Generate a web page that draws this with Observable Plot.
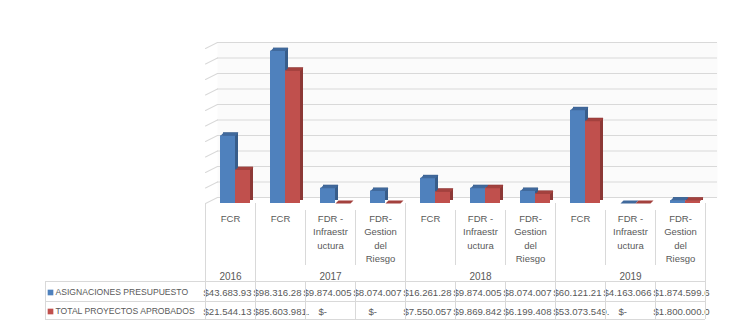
<!DOCTYPE html>
<html><head><meta charset="utf-8">
<script src="https://cdn.jsdelivr.net/npm/d3@7"></script>
<script src="https://cdn.jsdelivr.net/npm/@observablehq/plot@0.6"></script>
<style>
body{margin:0;background:#fff}
#chart svg{display:block}
</style>
</head><body><div id="chart"></div>
<script>
// ---- data ----
const years = ["2016", "2017", "2018", "2019"];
const categoryLabels = [
  "FCR",
  "FCR", "FDR -\nInfraestr\nuctura", "FDR-\nGestion\ndel\nRiesgo",
  "FCR", "FDR -\nInfraestr\nuctura", "FDR-\nGestion\ndel\nRiesgo",
  "FCR", "FDR -\nInfraestr\nuctura", "FDR-\nGestion\ndel\nRiesgo"
];
const categoryYears = ["2016", "2017", "2017", "2017", "2018", "2018", "2018", "2019", "2019", "2019"];
const seriesNames = ["ASIGNACIONES PRESUPUESTO", "TOTAL PROYECTOS APROBADOS"];
const asignaciones = [43683930000, 98316280000, 9874005000, 8074007000, 16261280000, 9874005000, 8074007000, 60121210000, 4163066, 1874599600];
const totalAprobados = [21544130000, 85603981000, 0, 0, 7550057000, 9869842000, 6199408000, 53073549000, 0, 1800000000];
const gridTicks = [0, 1e10, 2e10, 3e10, 4e10, 5e10, 6e10, 7e10, 8e10, 9e10, 1e11];

// ---- layout / style ----
const W = 732, H = 321, mL = 205, mR = 27, mT = 48, mB = 118;
const n = categoryLabels.length;
const bw = (W - mL - mR) / n;           // band width
const barW = 15, shift = 5, depth = 3;  // 3-D look
const wallDX = 12, wallDY = -6;
const tableLeft = 45;
const txt = "#595959", gridC = "#d9d9d9";
const blue = "#4f81bd", blueSide = "#385d8a", blueTop = "#40699c";
const red = "#c0504d", redSide = "#8c3836", redTop = "#a3413e";
const rowDy = [89, 108];                 // table rows (offset below baseline)
const lineDy = [78, 98, 116];            // table horizontal lines

const rows = categoryLabels.map((label, i) => ({key: i, label, year: categoryYears[i], a: asignaciones[i], t: totalAprobados[i]}));
const yearRows = years.map(y => {
  const ks = rows.filter(r => r.year === y).map(r => r.key);
  return {year: y, key: ks[Math.floor(ks.length / 2)]};
});
const groupStart = rows.filter((r, i) => i === 0 || rows[i - 1].year !== r.year);
const innerStart = rows.filter((r, i) => i > 0 && rows[i - 1].year === r.year);

const loc = d3.formatLocale({decimal: ",", thousands: ".", grouping: [3], currency: ["$", ""]});
const money = loc.format("$,.0f");
// the data table clips a value where the next cell's text begins
const cellText = (series, i) => {
  const v = series[i];
  if (v === 0) return "$-";
  const next = series[i + 1];
  const room = (next === undefined || next === 0) ? 12 : 10;
  return money(v).slice(0, room);
};

const blueL = (bw / 2 - barW) + shift, blueR = bw - blueL - barW;
const redL = blueL + barW, redR = bw - redL - barW;

const topShape = {draw(ctx) {
  ctx.moveTo(-barW / 2, 0); ctx.lineTo(barW / 2, 0);
  ctx.lineTo(barW / 2 + depth, -depth); ctx.lineTo(-barW / 2 + depth, -depth); ctx.closePath();
}};
const lineShape = {draw(ctx, l) { ctx.moveTo(0, 0); ctx.lineTo(0, -l); }};
const wallAngle = Math.atan2(wallDX, -wallDY) * 180 / Math.PI;
const wallLen = Math.hypot(wallDX, wallDY);

const font = "Liberation Sans, Arial, sans-serif";

const marks = [
  // back wall
  Plot.frame({fill: "#fbfbfb", stroke: "none", dx: wallDX, dy: wallDY}),
  Plot.ruleY(gridTicks, {stroke: gridC, dx: wallDX, dy: wallDY}),
  Plot.vector(gridTicks, {y: d => d, frameAnchor: "left", rotate: wallAngle, length: wallLen, anchor: "start", shape: lineShape, stroke: gridC, strokeWidth: 1}),
  // blue series
  Plot.barY(rows, {x: "key", y: "a", insetLeft: blueL, insetRight: blueR, fill: blueSide, dx: depth, dy: -depth}),
  Plot.barY(rows, {x: "key", y: "a", insetLeft: blueL, insetRight: blueR, fill: blue}),
  Plot.vector(rows, {x: "key", y: "a", dx: blueL + barW / 2 - bw / 2, rotate: 0, anchor: "start", shape: topShape, fill: blueTop, stroke: "none"}),
  // red series
  Plot.barY(rows, {x: "key", y: "t", insetLeft: redL, insetRight: redR, fill: redSide, dx: depth, dy: -depth}),
  Plot.barY(rows, {x: "key", y: "t", insetLeft: redL, insetRight: redR, fill: red}),
  Plot.vector(rows, {x: "key", y: "t", dx: redL + barW / 2 - bw / 2, rotate: 0, anchor: "start", shape: topShape, fill: redTop, stroke: "none"}),
  // category labels & years
  Plot.text(rows, {x: "key", y: 0, text: "label", dy: 9, lineAnchor: "top", lineHeight: 1.4, fontSize: 9.5, fill: txt}),
  Plot.text(yearRows, {x: "key", y: 0, text: "year", dy: 73, fontSize: 10, fill: txt})
];
// legend swatches & names
seriesNames.forEach((name, i) => {
  marks.push(Plot.dot([name], {x: () => 0, y: () => 0, dx: tableLeft + 5 - mL - bw / 2, dy: rowDy[i], symbol: "square", r: 3.2, fill: [blue, red][i], stroke: "none"}));
  marks.push(Plot.text([name], {x: () => 0, y: () => 0, text: d => d, dx: tableLeft + 10 - mL - bw / 2, dy: rowDy[i], textAnchor: "start", fontSize: 8.6, fill: txt}));
});
// table values
[[asignaciones, "a", 0], [totalAprobados, "t", 1]].forEach(([series, k, i]) => {
  marks.push(Plot.text(rows.filter(r => r[k] !== 0), {x: "key", y: 0, text: d => cellText(series, d.key), dx: -bw / 2 - 2, dy: rowDy[i], textAnchor: "start", fontSize: 9.6, fill: txt}));
  marks.push(Plot.text(rows.filter(r => r[k] === 0), {x: "key", y: 0, text: d => cellText(series, d.key), dx: -bw / 2 + 13, dy: rowDy[i], textAnchor: "start", fontSize: 9.6, fill: txt}));
});
// table lines
lineDy.forEach(d => marks.push(Plot.ruleY([0], {dy: d, insetLeft: tableLeft - mL, stroke: gridC})));
marks.push(Plot.ruleX(groupStart, {x: "key", dx: -bw / 2, y1: 0, y2: 0, insetTop: 0, insetBottom: -lineDy[2], stroke: gridC}));
marks.push(Plot.ruleX([rows[n - 1]], {x: "key", dx: bw / 2, y1: 0, y2: 0, insetTop: 0, insetBottom: -lineDy[2], stroke: gridC}));
marks.push(Plot.ruleX(innerStart, {x: "key", dx: -bw / 2, y1: 0, y2: 0, insetTop: 7, insetBottom: -62, stroke: gridC}));
marks.push(Plot.ruleX(innerStart, {x: "key", dx: -bw / 2, y1: 0, y2: 0, insetTop: lineDy[0], insetBottom: -lineDy[2], stroke: gridC}));
marks.push(Plot.ruleX([rows[0]], {x: "key", dx: tableLeft - mL - bw / 2, y1: 0, y2: 0, insetTop: lineDy[0], insetBottom: -lineDy[2], stroke: gridC}));

const chart = Plot.plot({
  width: W, height: H,
  marginLeft: mL, marginRight: mR, marginTop: mT, marginBottom: mB,
  style: {fontFamily: font, background: "#fff", color: txt, overflow: "visible"},
  x: {type: "band", domain: rows.map(r => r.key), padding: 0, axis: null},
  y: {domain: [0, 1e11], axis: null},
  marks
});
document.getElementById("chart").appendChild(chart);
</script>
</body></html>
